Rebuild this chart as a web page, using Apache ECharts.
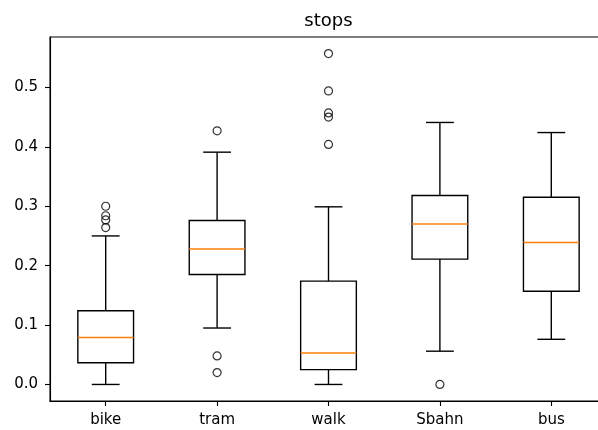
<!DOCTYPE html>
<html>
<head>
<meta charset="utf-8">
<script src="https://cdn.jsdelivr.net/npm/echarts@6/dist/echarts.min.js"></script>
<style>
  html, body { margin: 0; padding: 0; background: #fff; overflow: hidden; }
  /* The axes run past the right edge of the window, so the canvas is wider than the view */
  #chart { width: 612px; height: 430px; }
</style>
</head>
<body>
<div id="chart"></div>
<script>
// Box statistics per transport mode
const categories = ['bike', 'tram', 'walk', 'Sbahn', 'bus'];
const whiskerLow = [0.000, 0.095, 0.000, 0.056, 0.076];
const q1 = [0.0365, 0.185, 0.025, 0.211, 0.157];
const median = [0.079, 0.228, 0.053, 0.270, 0.239];
const q3 = [0.124, 0.276, 0.174, 0.318, 0.315];
const whiskerHigh = [0.250, 0.391, 0.299, 0.441, 0.424];

// Fliers beyond the whiskers
const fliersBike = [0.300, 0.284, 0.277, 0.264];
const fliersTram = [0.427, 0.048, 0.020];
const fliersWalk = [0.557, 0.494, 0.457, 0.450, 0.404];
const fliersSbahn = [0.000];
const fliersBus = [];

const yTicks = [0.0, 0.1, 0.2, 0.3, 0.4, 0.5];
const titleText = 'stops';

const fliers = [fliersBike, fliersTram, fliersWalk, fliersSbahn, fliersBus];

const boxData = categories.map((c, i) => [i, whiskerLow[i], q1[i], median[i], q3[i], whiskerHigh[i]]);
const flierData = [];
fliers.forEach((list, i) => list.forEach(v => flierData.push([i, v])));

// Value range with 5% padding on each side
const allVals = [].concat(whiskerLow, whiskerHigh, ...fliers);
const dMin = Math.min(...allVals), dMax = Math.max(...allVals);
const pad = (dMax - dMin) * 0.05;

const FONT = 'DejaVu Sans';
const chart = echarts.init(document.getElementById('chart'), null, { renderer: 'canvas' });

chart.setOption({
  animation: false,
  backgroundColor: '#fff',
  title: {
    text: titleText,
    left: 328.5,
    top: 12,
    textAlign: 'center',
    padding: 0,
    textStyle: { fontFamily: FONT, fontSize: 18, fontWeight: 'normal', color: '#000' }
  },
  grid: {
    left: 50, top: 37, width: 557, height: 364,
    show: true, borderColor: '#000', borderWidth: 1.1, backgroundColor: 'transparent',
    containLabel: false
  },
  xAxis: {
    type: 'category',
    data: categories,
    boundaryGap: true,
    axisLine: { show: true, onZero: false, lineStyle: { color: '#000', width: 1.1 } },
    axisTick: { show: true, alignWithLabel: true, length: 5, lineStyle: { color: '#000', width: 1.1 } },
    axisLabel: { margin: 12, fontFamily: FONT, fontSize: 15, color: '#000' },
    splitLine: { show: false }
  },
  yAxis: {
    type: 'value',
    min: dMin - pad,
    max: dMax + pad,
    axisLine: { show: true, lineStyle: { color: '#000', width: 1.1 } },
    axisTick: { show: true, length: 5, customValues: yTicks, lineStyle: { color: '#000', width: 1.1 } },
    axisLabel: {
      margin: 12, fontFamily: FONT, fontSize: 15, color: '#000',
      customValues: yTicks,
      formatter: v => v.toFixed(1)
    },
    splitLine: { show: false }
  },
  series: [
    {
      type: 'custom',
      data: boxData,
      encode: { x: 0, y: [1, 2, 3, 4, 5] },
      clip: false,
      renderItem: (params, api) => {
        const idx = api.value(0);
        const band = api.size([1, 0])[0];
        const halfBox = band * 0.25;
        const halfCap = band * 0.125;
        const pLow = api.coord([idx, api.value(1)]);
        const pQ1 = api.coord([idx, api.value(2)]);
        const pMed = api.coord([idx, api.value(3)]);
        const pQ3 = api.coord([idx, api.value(4)]);
        const pHigh = api.coord([idx, api.value(5)]);
        const cx = pLow[0];
        const black = { stroke: '#000', lineWidth: 1.39, fill: null };
        return {
          type: 'group',
          children: [
            { type: 'line', shape: { x1: cx, y1: pLow[1], x2: cx, y2: pQ1[1] }, style: black },
            { type: 'line', shape: { x1: cx, y1: pQ3[1], x2: cx, y2: pHigh[1] }, style: black },
            { type: 'line', shape: { x1: cx - halfCap, y1: pLow[1], x2: cx + halfCap, y2: pLow[1] }, style: black },
            { type: 'line', shape: { x1: cx - halfCap, y1: pHigh[1], x2: cx + halfCap, y2: pHigh[1] }, style: black },
            { type: 'rect', shape: { x: cx - halfBox, y: pQ3[1], width: halfBox * 2, height: pQ1[1] - pQ3[1] }, style: black },
            { type: 'line', shape: { x1: cx - halfBox, y1: pMed[1], x2: cx + halfBox, y2: pMed[1] }, style: { stroke: '#ff7f0e', lineWidth: 1.39 } }
          ]
        };
      }
    },
    {
      type: 'scatter',
      data: flierData,
      symbol: 'circle',
      symbolSize: 8,
      itemStyle: { color: 'rgba(0,0,0,0)', borderColor: '#000', borderWidth: 1.2 }
    }
  ]
});
</script>
</body>
</html>
